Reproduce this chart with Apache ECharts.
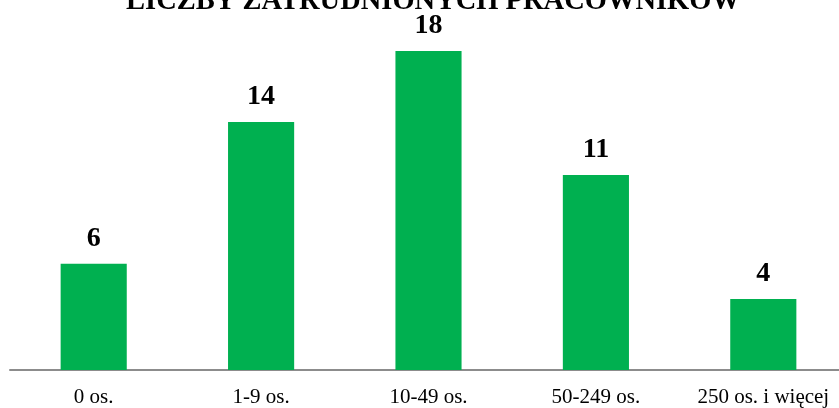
<!DOCTYPE html>
<html><head><meta charset="utf-8">
<script src="https://cdn.jsdelivr.net/npm/echarts@6/dist/echarts.min.js"></script>
<style>html,body{margin:0;padding:0;background:#fff;overflow:hidden}#c{width:847px;height:408px}</style>
</head><body><div id="c"></div>
<script>
const titleText = "LICZBY ZATRUDNIONYCH PRACOWNIKÓW";
const categories = ["0 os.", "1-9 os.", "10-49 os.", "50-249 os.", "250 os. i więcej"];
const values = [6, 14, 18, 11, 4];

const chart = echarts.init(document.getElementById('c'), null, {renderer: 'canvas'});
chart.setOption({
  animation: false,
  backgroundColor: '#fff',
  title: {
    text: titleText, left: 428, top: -18, textAlign: 'center',
    textStyle: {fontFamily: 'Liberation Serif', fontWeight: 'bold', fontSize: 28.5, color: '#000'}
  },
  grid: {left: 10, right: 0, top: 51, bottom: 36, containLabel: false},
  xAxis: {
    type: 'category', data: categories,
    axisLine: {lineStyle: {color: '#8c8c8c', width: 2}},
    axisTick: {show: false},
    axisLabel: {fontFamily: 'Liberation Serif', fontSize: 21, color: '#000', margin: 17, interval: 0}
  },
  yAxis: {type: 'value', min: 0, max: 18, show: false, splitLine: {show: false}},
  series: [{
    type: 'bar', data: values, barWidth: '39.5%',
    itemStyle: {color: '#00b050'},
    label: {show: true, position: 'top', distance: 11, fontFamily: 'Liberation Serif', fontWeight: 'bold', fontSize: 28, color: '#000'}
  }]
});
</script></body></html>
